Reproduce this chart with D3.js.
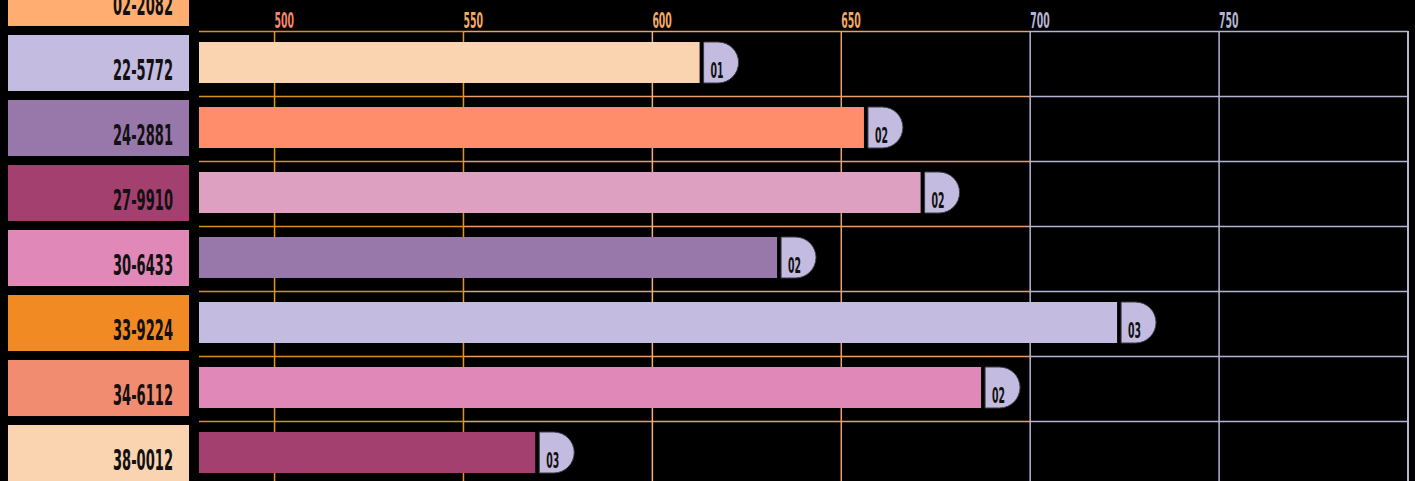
<!DOCTYPE html>
<html>
<head>
<meta charset="utf-8">
<script src="https://cdn.jsdelivr.net/npm/d3@7"></script>
<style>
  html, body { margin: 0; padding: 0; background: #000; overflow: hidden; }
  svg { display: block; }
</style>
</head>
<body>
<svg id="chart" width="1415" height="481"></svg>
<script>
// ---- data ----
const categories = ["02-2082", "22-5772", "24-2881", "27-9910", "30-6433", "33-9224", "34-6112", "38-0012"];
const values     = [null, 612.5, 656, 671, 633, 723, 687, 569];
const badges     = [null, "01", "02", "02", "02", "03", "02", "03"];
const tickValues = [500, 550, 600, 650, 700, 750];
const tickLabels = ["500", "550", "600", "650", "700", "750"];

// ---- styles ----
const labelColors = ["#FFAD70", "#C4BCE0", "#9878AA", "#A34070", "#E088B8", "#F28A24", "#F28C70", "#FAD3B0"];
const barColors   = [null, "#FAD3B0", "#FF8C6A", "#DDA0C0", "#9878AA", "#C4BCE0", "#E088B8", "#A34070"];
const tickTextColors = ["#F2876A", "#F0A868", "#F0A868", "#F0A868", "#B4B4D4", "#B4B4D4"];
const tickLineColors = ["#E8960F", "#E8960F", "#F8B070", "#E8A070", "#B4B4D4", "#B4B4D4"];
const segColors      = ["#D8901E", "#D8901E", "#E8A070", "#E8A070", "#E8A070", "#B4B4D4", "#B4B4D4"];
const badgeColor = "#C4BCE0";
const font = "'Liberation Sans Narrow', 'DejaVu Sans Condensed', sans-serif";

const svg = d3.select("#chart");
const W = 1415, H = 481;
svg.append("rect").attr("width", W).attr("height", H).attr("fill", "#000");

const x = d3.scaleLinear().domain([480, 800]).range([199, 1408]);
const y = d3.scaleBand().domain(categories).range([-34, 486]).paddingInner(0).paddingOuter(0);
const plotTop = y(categories[1]);

// row label boxes
const rows = categories.map((c, i) => ({ c, i, v: values[i], b: badges[i] }));
svg.append("g").selectAll("rect").data(rows).join("rect")
  .attr("x", 8).attr("width", 181)
  .attr("y", d => y(d.c) + 4).attr("height", 56)
  .attr("fill", d => labelColors[d.i]);
svg.append("g").selectAll("text").data(rows).join("text")
  .attr("x", 173).attr("y", d => y(d.c) + 49)
  .attr("text-anchor", "end")
  .attr("font-family", font).attr("font-weight", "bold").attr("font-size", 28.5)
  .attr("textLength", 60).attr("lengthAdjust", "spacingAndGlyphs")
  .attr("fill", "#111")
  .text(d => d.c);

// gridlines: horizontal segments at each band top (from row 1)
const grid = svg.append("g");
const segEdges = [x.domain()[0], ...tickValues, x.domain()[1]];
const hRows = categories.slice(1);
hRows.forEach(c => {
  for (let s = 0; s < segEdges.length - 1; s++) {
    grid.append("line")
      .attr("x1", x(segEdges[s])).attr("x2", x(segEdges[s + 1]))
      .attr("y1", y(c) + 0.5).attr("y2", y(c) + 0.5)
      .attr("stroke", segColors[s]).attr("stroke-width", 1.5);
  }
});
// vertical gridlines
grid.selectAll("line.v").data(tickValues).join("line").attr("class", "v")
  .attr("x1", d => x(d)).attr("x2", d => x(d))
  .attr("y1", plotTop).attr("y2", H)
  .attr("stroke", (d, i) => tickLineColors[i]).attr("stroke-width", 1.5);
// right border
grid.append("line")
  .attr("x1", x(x.domain()[1])).attr("x2", x(x.domain()[1]))
  .attr("y1", plotTop).attr("y2", H)
  .attr("stroke", "#B4B4D4").attr("stroke-width", 2);

// tick labels
svg.append("g").selectAll("text").data(tickValues).join("text")
  .attr("x", d => x(d)).attr("y", 28)
  .attr("font-family", font).attr("font-weight", "bold").attr("font-size", 22)
  .attr("textLength", 19.5).attr("lengthAdjust", "spacingAndGlyphs")
  .attr("fill", (d, i) => tickTextColors[i])
  .text((d, i) => tickLabels[i]);

// bars
const barRows = rows.filter(d => d.v != null);
svg.append("g").selectAll("rect").data(barRows).join("rect")
  .attr("x", x(x.domain()[0]))
  .attr("y", d => y(d.c) + 11).attr("height", 41)
  .attr("width", d => x(d.v) - x(x.domain()[0]))
  .attr("fill", d => barColors[d.i]);

// badges (D-shaped pills)
const pw = 35, ph = 41, r = ph / 2;
const badgeG = svg.append("g").selectAll("g").data(barRows).join("g")
  .attr("transform", d => `translate(${x(d.v) + 4},${y(d.c) + 11})`);
badgeG.append("path")
  .attr("d", `M0,0 H${pw - r} A${r},${r} 0 0 1 ${pw - r},${ph} H0 Z`)
  .attr("fill", badgeColor).attr("stroke", "#3a3a44").attr("stroke-width", 1);
badgeG.append("text")
  .attr("x", 7).attr("y", 35.5)
  .attr("font-family", font).attr("font-weight", "bold").attr("font-size", 20.5)
  .attr("textLength", 13).attr("lengthAdjust", "spacingAndGlyphs")
  .attr("fill", "#111")
  .text(d => d.b);
</script>
</body>
</html>
